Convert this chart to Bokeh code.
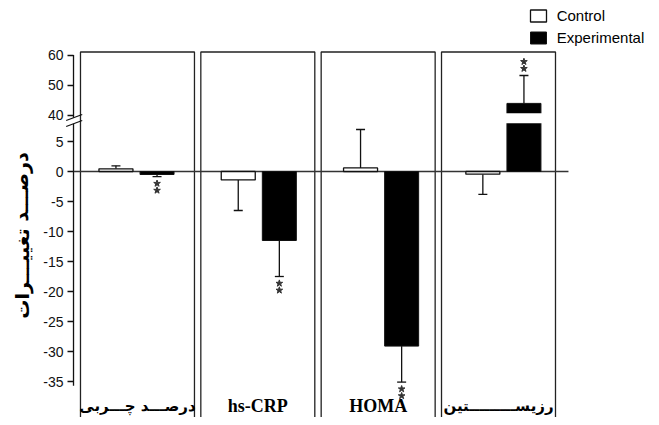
from bokeh.plotting import figure
from bokeh.models import (Range1d, LinearAxis, FixedTicker, Label, Legend,
                          LegendItem, ColumnDataSource)
from bokeh.core.properties import value
from bokeh.embed import file_html
from bokeh.resources import INLINE

# ---------------- data ----------------
categories = ["درصـــد چـــربی", "hs-CRP", "HOMA", "رزیســـــــــتین"]
series_names = ["Control", "Experimental"]
control_mean = [0.45, -1.4, 0.6, -0.45]
control_err = [0.5, 5.1, 6.4, 3.35]
exp_mean = [-0.5, -11.5, -29.1, 43.9]
exp_err = [0.35, 6.0, 6.0, 9.3]
exp_sig = [True, True, True, True]
y_tick_values = [-35, -30, -25, -20, -15, -10, -5, 0, 5, 40, 50, 60]
y_label = "درصـــد تغییـــرات"

# ---------------- broken-axis transform ----------------
BREAK_AT = 8.0          # values above this are on the compressed upper segment
UPPER_BASE = 9.4        # display position of 40
def disp(v):
    return v if v <= BREAK_AT else UPPER_BASE + (v - 40.0) / 2.0

n = len(categories)
idx = list(range(n))
DODGE = 0.168
BAR_W = 0.278
AX_X = -0.515
BOX_STEP = 0.984
BOX_OFF = 0.008
BOX_HALF = 0.466

p = figure(width=651, height=417,
           x_range=Range1d(-1.112, 4.211), y_range=Range1d(-41.0, 28.5),
           output_backend="svg", toolbar_location=None,
           x_axis_location=None, y_axis_location=None,
           min_border=0, outline_line_color=None)
p.grid.visible = False

yaxis = LinearAxis(fixed_location=AX_X,
                   ticker=FixedTicker(ticks=[disp(v) for v in y_tick_values]),
                   major_label_overrides={disp(v): str(v) for v in y_tick_values},
                   axis_line_color=None,
                   major_tick_out=6, major_tick_in=0,
                   minor_tick_out=0, minor_tick_in=0,
                   major_tick_line_width=1.3, major_tick_line_color="#111",
                   major_label_text_font="Liberation Sans",
                   major_label_text_font_size="14px",
                   major_label_text_color="#111",
                   major_label_standoff=4)
p.add_layout(yaxis, "left")

# panel boxes
box_x = [i * BOX_STEP + BOX_OFF for i in idx]
p.quad(left=[b - BOX_HALF for b in box_x], right=[b + BOX_HALF for b in box_x],
       top=19.92, bottom=-50, fill_color=None, line_color="#222", line_width=1.3)

# spine with break
p.segment(x0=[AX_X, AX_X], y0=[disp(60), 7.95], x1=[AX_X, AX_X], y1=[8.95, -35.7],
          line_color="#111", line_width=1.3)
p.segment(x0=[-0.575, -0.575], y0=[8.5, 7.5], x1=[-0.444, -0.444], y1=[9.5, 8.5],
          line_color="#111", line_width=1.2)

# zero line
p.segment(x0=[AX_X], y0=[0], x1=[3.532], y1=[0], line_color="#333", line_width=1.3)

cx = [i - DODGE for i in idx]
ex = [i + DODGE for i in idx]

def sgn(v):
    return 1 if v >= 0 else -1

c_end = [disp(m + sgn(m) * e) for m, e in zip(control_mean, control_err)]
e_end = [disp(m + sgn(m) * e) for m, e in zip(exp_mean, exp_err)]

# error stems and caps
p.segment(x0=cx, y0=[disp(m) for m in control_mean], x1=cx, y1=c_end,
          line_color="#111", line_width=1.3)
p.segment(x0=ex, y0=[disp(m) for m in exp_mean], x1=ex, y1=e_end,
          line_color="#111", line_width=1.3)
p.scatter(x=cx + ex, y=c_end + e_end, marker="dash", size=9,
          line_color="#111", line_width=1.3)

rc = p.vbar(x=cx, top=[disp(m) for m in control_mean], bottom=0, width=BAR_W,
            fill_color="white", line_color="#111", line_width=1.3)
re = p.vbar(x=ex, top=[disp(m) for m in exp_mean], bottom=0, width=BAR_W,
            fill_color="black", line_color="#111", line_width=1.0)

# white break band across bars crossing the break
band_x = [x for x, m in zip(ex, exp_mean) if m > BREAK_AT]
p.quad(left=[x - BAR_W / 2 - 0.01 for x in band_x],
       right=[x + BAR_W / 2 + 0.01 for x in band_x],
       bottom=8.05, top=9.7, fill_color="white", line_color=None)

# significance stars
STAR_GAP = [1.15, 2.3]
sx, sy = [], []
for x, m, end, s in zip(ex, exp_mean, e_end, exp_sig):
    if s:
        for g in STAR_GAP:
            sx.append(x)
            sy.append(end + sgn(m) * g)
p.scatter(x=sx, y=sy, marker="star", size=7, fill_color="#333", line_color="#333")

# category labels
is_latin = [c.isascii() for c in categories]
lab_src = ColumnDataSource(dict(
    x=box_x, y=[-39.0] * n, text=categories,
    font=["Liberation Serif" if l else "DejaVu Sans" for l in is_latin],
    size=["18px" if l else "15px" for l in is_latin]))
p.text(x="x", y="y", text="text", source=lab_src, text_font="font",
       text_font_size="size", text_font_style="bold", text_align="center",
       text_baseline="middle", text_color="black")

# y label
p.add_layout(Label(x=21, y=182, x_units="screen", y_units="screen", text=y_label,
                   angle=1.5708, text_font="DejaVu Sans", text_font_size="19px",
                   text_font_style="bold", text_align="center",
                   text_baseline="middle", text_color="black"))

legend = Legend(items=[LegendItem(label=series_names[0], renderers=[rc]),
                       LegendItem(label=series_names[1], renderers=[re])],
                location=(527.7, 371), glyph_width=20, glyph_height=15,
                label_height=15, spacing=5, padding=0, margin=0,
                label_standoff=9, border_line_color=None,
                background_fill_alpha=0,
                label_text_font="Liberation Sans", label_text_font_size="15px",
                label_text_color="black")
p.add_layout(legend)

open("out.html", "w").write(file_html(p, INLINE))
